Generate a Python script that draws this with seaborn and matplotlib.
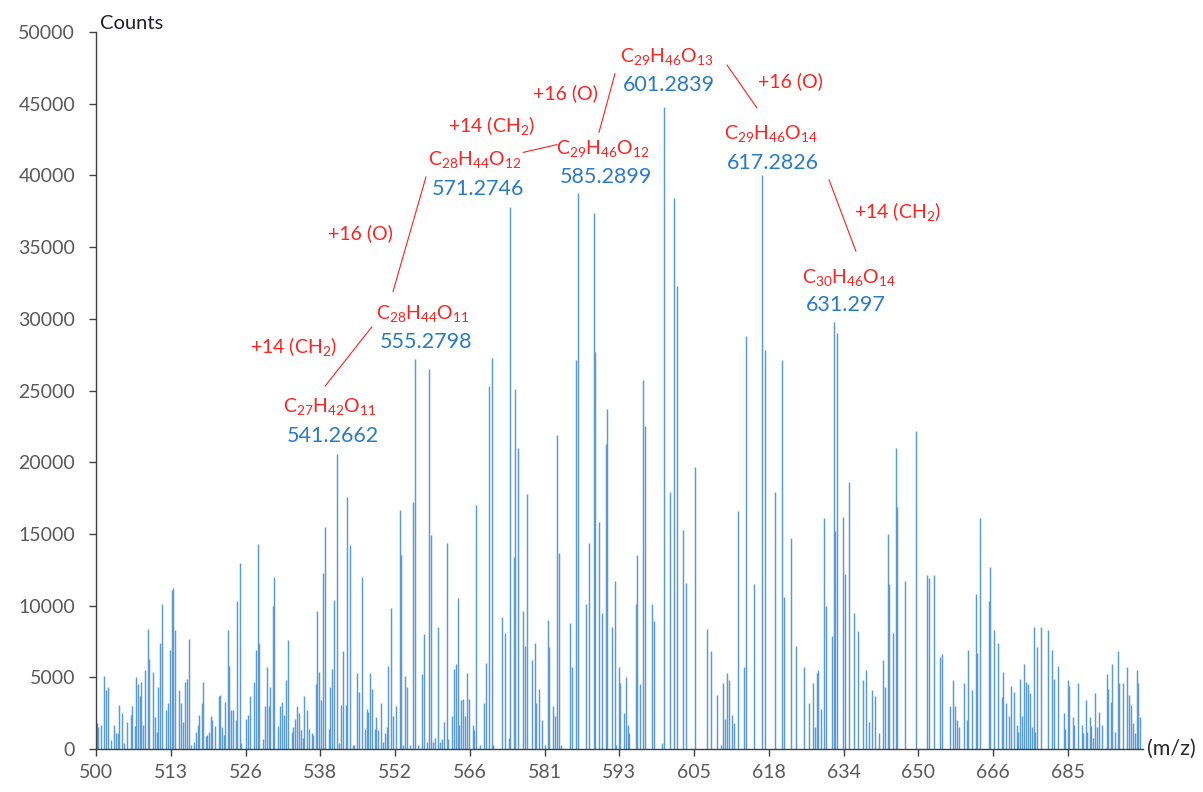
"""
Mass spectrum with annotated homologue series.
"""
import matplotlib

matplotlib.use("Agg")
import matplotlib.pyplot as plt
import numpy as np
import pandas as pd
import seaborn as sns

# ---------------------------------------------------------------- data
# scan index along the category axis and peak height (counts)
scan = [
    1, 2, 5, 8, 10, 12, 15, 18, 20, 22, 23, 26, 28, 31, 35, 36, 39, 40, 42, 44,
    45, 47, 49, 52, 53, 57, 59, 61, 62, 64, 66, 70, 72, 74, 76, 77, 79, 83, 85, 87,
    89, 91, 93, 95, 98, 100, 102, 103, 106, 107, 110, 111, 113, 115, 116, 119, 123, 124, 126, 128,
    129, 132, 133, 135, 137, 140, 141, 144, 145, 150, 152, 154, 158, 160, 162, 163, 167, 169, 171, 173,
    174, 177, 178, 182, 184, 186, 188, 190, 192, 196, 197, 199, 201, 203, 205, 207, 208, 211, 213, 216,
    217, 220, 221, 223, 225, 227, 229, 233, 234, 236, 238, 241, 243, 245, 247, 250, 251, 254, 257, 258,
    261, 263, 266, 269, 271, 272, 274, 276, 279, 280, 282, 285, 287, 289, 291, 292, 295, 297, 300, 304,
    305, 307, 309, 311, 314, 317, 319, 322, 326, 328, 331, 333, 335, 337, 339, 342, 344, 346, 348, 351,
    352, 356, 358, 360, 362, 363, 365, 367, 369, 371, 373, 377, 378, 380, 384, 388, 390, 393, 396, 397,
    406, 409, 413, 414, 418, 419, 422, 427, 429, 431, 436, 439, 440, 443, 446, 449, 452, 453, 457, 459,
    461, 463, 465, 474, 476, 480, 482, 490, 493, 498, 499, 503, 506, 510, 511, 516, 519, 520, 523, 524,
    528, 530, 532, 533, 540, 541, 544, 547, 549, 556, 558, 566, 568, 574, 578, 581, 587, 590, 599, 611,
    615, 621, 625, 627, 629, 631, 633, 636, 638, 642, 648, 650, 658, 666, 669, 679, 686, 688, 695, 700,
    708, 713, 717, 719, 721, 722, 725, 728, 730, 736, 738, 739, 741, 747, 749, 753, 758, 762, 767, 770,
    773, 776, 779, 783, 787, 789, 792, 793, 797, 800, 801, 809, 820, 831, 833, 838, 844, 846, 854, 857,
    859, 861, 863, 868, 871, 872, 876, 880, 881, 884, 893, 894, 898, 902, 906, 907, 910, 913, 915, 918,
    921, 922, 924, 926, 928, 930, 932, 934, 936, 938, 939, 941, 945, 952, 956, 958, 962, 968, 969, 972,
    973, 977, 978, 982, 986, 987, 990, 991, 994, 995, 997, 999, 1001, 1003, 1006, 1011, 1012, 1015, 1016, 1019,
    1022, 1023, 1027, 1031, 1033, 1035, 1037, 1039, 1041, 1042, 1044,
]
counts = [
    1800, 1500, 1700, 5100, 4100, 4300, 600, 1700, 1100, 1100, 3100, 2500, 400, 1900, 2400, 3000, 1600, 5000, 4500, 3700,
    4700, 1700, 5500, 8400, 6300, 5400, 2200, 1200, 4300, 7400, 10100, 2700, 3200, 6900, 11100, 11200, 8300, 4100, 3200, 1900,
    4700, 4900, 7700, 300, 500, 1200, 1700, 2400, 3200, 4700, 900, 1000, 1200, 2300, 2000, 1600, 3700, 3800, 1500, 1000,
    3300, 8300, 5800, 2700, 2700, 2000, 10300, 13000, 400, 2100, 2400, 3700, 4700, 6900, 14300, 7400, 700, 3000, 5700, 3000,
    4300, 10000, 12000, 1600, 3000, 3300, 2400, 4800, 7600, 1200, 1500, 2100, 3000, 2500, 1300, 800, 3700, 2700, 1400, 1100,
    1000, 4500, 9600, 5400, 3400, 12300, 15500, 1400, 4300, 5600, 10400, 20600, 400, 3100, 6800, 3100, 17600, 14200, 300, 300,
    5300, 4000, 12000, 1400, 2800, 2600, 5300, 4200, 1400, 2200, 1300, 3200, 500, 1100, 1500, 5800, 9800, 2300, 3000, 16700,
    13500, 300, 5100, 4300, 300, 17200, 27200, 300, 5200, 8000, 500, 26500, 14900, 500, 800, 8500, 500, 700, 1900, 14400,
    700, 2300, 5600, 5900, 10500, 1700, 3400, 3500, 2300, 5300, 3500, 1700, 1300, 17000, 300, 3200, 6000, 25300, 27300, 300,
    9200, 8100, 800, 37800, 13400, 25100, 21000, 9600, 7200, 17800, 6200, 7400, 3200, 4200, 2000, 300, 9000, 7100, 3000, 2300,
    21900, 13700, 300, 8800, 5700, 27100, 38800, 10100, 14400, 37400, 27700, 15800, 9500, 21300, 23700, 8500, 11700, 300, 5700, 4600,
    2500, 5000, 1700, 1100, 10100, 13500, 4500, 25700, 22500, 10100, 8900, 400, 44800, 17900, 38400, 32300, 15300, 11600, 19700, 8400,
    6800, 3800, 300, 4600, 2100, 5300, 4800, 2400, 1800, 16600, 5700, 28800, 11500, 40000, 27800, 17900, 27100, 10600, 14700, 7200,
    5700, 3200, 4600, 1500, 5300, 5500, 2800, 16100, 10000, 7900, 29800, 15200, 29000, 16200, 12200, 18600, 9500, 8200, 4800, 5500,
    1900, 4100, 3700, 1100, 6200, 4300, 15000, 11500, 8100, 21000, 16900, 11700, 22200, 12100, 11900, 12100, 6400, 6600, 3000, 4800,
    3000, 2000, 1500, 4600, 2000, 6900, 4100, 10800, 6700, 16100, 10300, 12700, 8300, 7400, 3600, 5400, 3200, 2300, 4400, 4000,
    1700, 1200, 4900, 2300, 5900, 4700, 4500, 3900, 1500, 8500, 1200, 7100, 8500, 8300, 6900, 4900, 5800, 2500, 1400, 4800,
    4400, 2200, 1700, 4600, 1700, 1100, 3400, 1200, 2200, 1600, 800, 3900, 1500, 2600, 1700, 5200, 4200, 3300, 5900, 1200,
    6800, 4600, 4600, 5700, 3800, 3100, 1800, 1100, 5500, 4600, 2200,
]

mz_tick_labels = [500, 513, 526, 538, 552, 566, 581, 593, 605, 618, 634, 650, 666, 685]

formulas = [
    r"$\mathregular{C_{27}H_{42}O_{11}}$",
    r"$\mathregular{C_{28}H_{44}O_{11}}$",
    r"$\mathregular{C_{28}H_{44}O_{12}}$",
    r"$\mathregular{C_{29}H_{46}O_{12}}$",
    r"$\mathregular{C_{29}H_{46}O_{13}}$",
    r"$\mathregular{C_{29}H_{46}O_{14}}$",
    r"$\mathregular{C_{30}H_{46}O_{14}}$",
]
masses = ["541.2662", "555.2798", "571.2746", "585.2899", "601.2839", "617.2826", "631.297"]
steps = [
    r"+14 (CH$\mathregular{_2}$)",
    r"+16 (O)",
    r"+14 (CH$\mathregular{_2}$)",
    r"+16 (O)",
    r"+16 (O)",
    r"+14 (CH$\mathregular{_2}$)",
]

# ---------------------------------------------------------------- layout
# (scan, counts) anchors for the labels and connector lines
formula_xy = [(234, 23900), (327, 30400), (379, 41100), (507, 41850),
              (571, 48300), (675, 42900), (753, 32900)]
mass_xy = [(237, 21850), (330, 28350), (382, 39050), (510, 39900),
           (573, 46300), (677, 40850), (750, 30950)]
step_xy = [(198, 28050), (264, 36000), (396, 43500), (469, 45750),
           (694, 46550), (802, 37500)]
connectors = [((229, 25300), (276, 29450)), ((297, 31900), (330, 39900)),
              ((427, 41600), (461, 42150)), ((503, 43000), (519, 47100)),
              ((631, 47700), (661, 44700)), ((733, 39700), (760, 34700))]

tick_step = 74.77
n_scans = 1047

RED = "#FF2020"
BLUE = "#2A7BC4"
BAR = "#5B9BD5"

sns.set_style("white")
plt.rcParams["font.family"] = ["Lato", "DejaVu Sans"]
plt.rcParams["mathtext.fontset"] = "custom"
plt.rcParams["mathtext.rm"] = "Lato"

df = pd.DataFrame({"scan": scan, "counts": counts})

fig = plt.figure(figsize=(12.03, 7.92), dpi=100)
ax = fig.add_axes([96 / 1203, 43 / 792, n_scans / 1203, 717 / 792])

ax.vlines(df["scan"], 0, df["counts"], color=BAR, lw=1.05)

ax.set_xlim(0, n_scans)
ax.set_ylim(0, 50000)
ax.set_xticks(np.arange(len(mz_tick_labels)) * tick_step)
ax.set_xticklabels(mz_tick_labels)
ax.set_yticks(np.arange(0, 50001, 5000))

sns.despine(ax=ax)
for side in ["left", "bottom"]:
    ax.spines[side].set_color("#404040")
    ax.spines[side].set_linewidth(1.0)
ax.tick_params(axis="both", direction="out", length=5, width=1, color="#404040",
               labelcolor="#595959", labelsize=14, bottom=True, left=True)
ax.tick_params(axis="y", pad=10)
ax.tick_params(axis="x", pad=6)

ax.text(4, 50600, "Counts", fontsize=14.5, color="#1E1E2A", ha="left", va="center", clip_on=False)
ax.text(n_scans + 4, 0, "(m/z)", fontsize=15.5, color="#262626", ha="left", va="center", clip_on=False)

for label, (x, y) in zip(formulas, formula_xy):
    ax.text(x, y, label, color=RED, fontsize=14, ha="center", va="center")
for label, (x, y) in zip(masses, mass_xy):
    ax.text(x, y, label, color=BLUE, fontsize=15.5, ha="center", va="center")
for label, (x, y) in zip(steps, step_xy):
    ax.text(x, y, label, color=RED, fontsize=14, ha="center", va="center")
for (x0, y0), (x1, y1) in connectors:
    ax.plot([x0, x1], [y0, y1], color=RED, lw=0.8)

plt.savefig("out.png", dpi=100)
